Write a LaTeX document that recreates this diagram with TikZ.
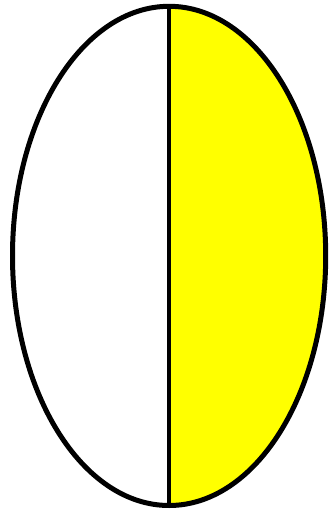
\documentclass[tikz,border=0pt]{standalone}
\definecolor{pureyellow}{RGB}{255,255,0}
\begin{document}
\begin{tikzpicture}[x=1pt,y=-1pt,outline/.style={line width=5pt,draw=black}]
\useasboundingbox (0,0) rectangle (331,510);
\coordinate (c) at (169.1,255.9);
\coordinate (top) at (169.1,6.3);
\coordinate (bot) at (169.1,505.5);
\begin{scope}
\clip (169.1,0) rectangle (331,510);
\fill[pureyellow] (c) ellipse [x radius=156.6, y radius=249.6];
\end{scope}
\draw[line width=4.5pt] (top) -- (bot);
\draw[outline] (c) ellipse [x radius=156.6, y radius=249.6];
\end{tikzpicture}
\end{document}
